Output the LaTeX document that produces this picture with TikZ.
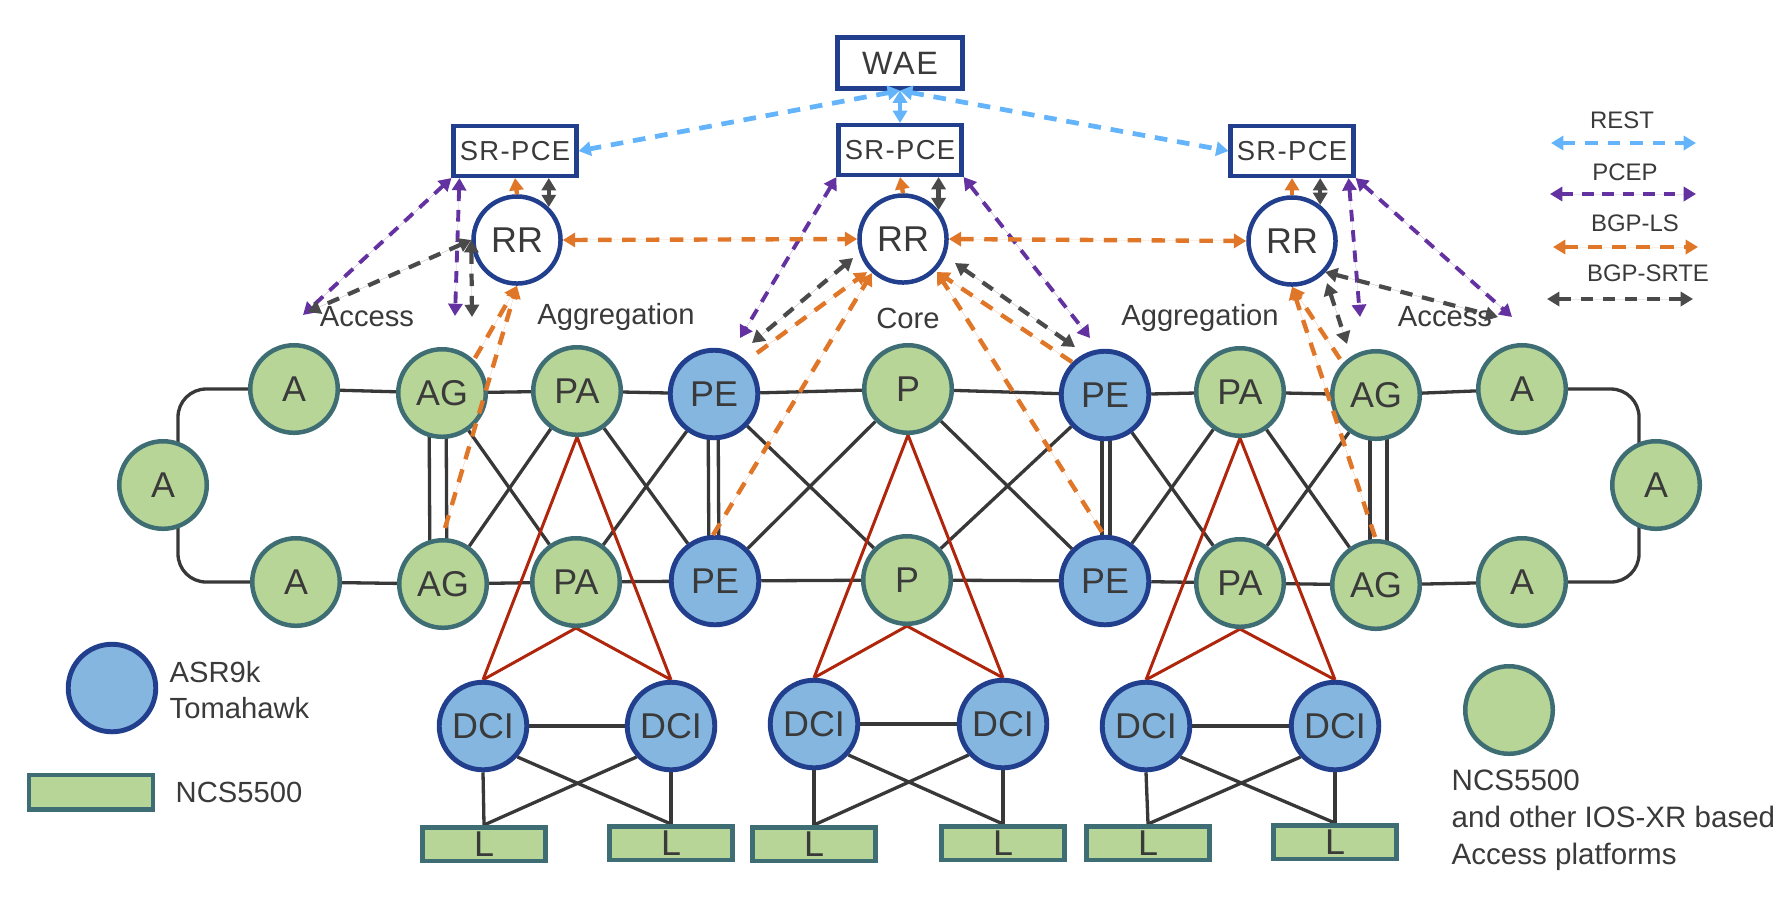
\documentclass[tikz,border=0pt]{standalone}
\usepackage{fontspec}
\setmainfont{Liberation Sans}
\newfontfamily\boxfont[LetterSpace=5]{Liberation Sans}
\usepackage{tikz}
\usetikzlibrary{arrows.meta, positioning, calc, backgrounds}

\definecolor{ncsfill}{HTML}{B7D597}
\definecolor{ncsline}{HTML}{3E6E74}
\definecolor{asrfill}{HTML}{84B6E0}
\definecolor{asrline}{HTML}{223F8E}
\definecolor{restc}{HTML}{63B4FA}
\definecolor{pcepc}{HTML}{6432A0}
\definecolor{lsc}{HTML}{E07628}
\definecolor{srtec}{HTML}{4A4A4A}
\definecolor{linkc}{HTML}{383838}
\definecolor{redc}{HTML}{B0260C}
\definecolor{txt}{HTML}{3A3A3A}

\tikzstyle{ncs} = [circle, draw=ncsline, fill=ncsfill, line width=1.28pt, minimum size=0.875cm, inner sep=0pt, text=txt, font=\fontsize{10.2}{12}\selectfont]
\tikzstyle{asr} = [ncs, draw=asrline, fill=asrfill, line width=1.4pt]
\tikzstyle{rr} = [ncs, draw=asrline, fill=white, minimum size=0.87cm]
\tikzstyle{pce} = [rectangle, draw=asrline, fill=white, line width=1.28pt, minimum width=1.225cm, minimum height=0.495cm, inner sep=0pt, text=txt, font=\boxfont\fontsize{7.8}{9}\selectfont]
\tikzstyle{leaf} = [rectangle, draw=ncsline, fill=ncsfill, line width=1.28pt, minimum width=1.225cm, minimum height=0.335cm, inner sep=0pt, text=txt, font=\fontsize{10.2}{12}\selectfont]
\tikzstyle{lbl} = [inner sep=0pt, text=txt, font=\fontsize{8.3}{10}\selectfont]
\tikzstyle{legtxt} = [inner sep=0pt, text=txt, font=\fontsize{6.8}{8}\selectfont]
\tikzstyle{link} = [draw=linkc, line width=0.94pt]
\tikzstyle{redlink} = [draw=redc, line width=0.85pt]
\tikzstyle{rest} = [draw=restc, line width=1.35pt, dash pattern=on 3.6pt off 2.8pt, <->]
\tikzstyle{pcep} = [draw=pcepc, fill=pcepc, line width=1.1pt, dash pattern=on 3.3pt off 2.5pt, <->]
\tikzstyle{bgpls} = [draw=lsc, fill=lsc, line width=1.25pt, dash pattern=on 3.8pt off 3pt]
\tikzstyle{srte} = [draw=srtec, fill=srtec, line width=1.2pt, dash pattern=on 3.5pt off 2.8pt, <->]

\begin{document}
\begin{tikzpicture}[x=0.01cm, y=-0.01cm, >={Triangle[length=3.5pt,width=4pt]}]
		\useasboundingbox (0,0) rectangle (1789,905);

		\coordinate (ringL) at (178,485);
		\coordinate (ringR) at (1639,485);
		\coordinate (accL)  at (303,315);
		\coordinate (pvL)   at (455,316);
		\coordinate (srL)   at (308,312);
		\coordinate (gvL)   at (472,317);
		\coordinate (pvR)   at (1360,317);
		\coordinate (accR)  at (1512,317);
		\coordinate (srR)   at (1498,317);

		% controllers
		\node[pce, font=\boxfont\fontsize{9.2}{11}\selectfont, minimum width=1.245cm, minimum height=0.505cm] (WAE) at (900,63) {WAE};
		\node[pce] (SL) at (515,151) {SR-PCE};
		\node[pce] (SM) at (900,150) {SR-PCE};
		\node[pce] (SR) at (1292,151) {SR-PCE};
		\node[rr] (RRL) at (517,240) {RR};
		\node[rr] (RRM) at (903,239) {RR};
		\node[rr] (RRR) at (1292,241) {RR};

		\node[lbl] (accessL) at (367,317) {Access};
		\node[lbl] (aggL)    at (616,317) {Aggregation};
		\node[lbl] (core)    at (908,318) {Core};
		\node[lbl] (aggR)    at (1200,318) {Aggregation};
		\node[lbl] (accessR) at (1445,317) {Access};

		% ring, top row
		\node[ncs] (A1t)  at (294,389)  {A};
		\node[ncs] (AG1t) at (442,393)  {AG};
		\node[ncs] (PA1t) at (577,391)  {PA};
		\node[asr] (PE1t) at (714,394)  {PE};
		\node[ncs] (Pt)   at (908,389)  {P};
		\node[asr] (PE2t) at (1105,395) {PE};
		\node[ncs] (PA2t) at (1240,392) {PA};
		\node[ncs] (AG2t) at (1376,395) {AG};
		\node[ncs] (A2t)  at (1522,389) {A};
		\node[ncs] (Al)   at (163,485)  {A};
		\node[ncs] (Ar)   at (1656,485) {A};
		% ring, bottom row
		\node[ncs] (A1b)  at (296,582)  {A};
		\node[ncs] (AG1b) at (443,584)  {AG};
		\node[ncs] (PA1b) at (576,582)  {PA};
		\node[asr] (PE1b) at (715,581)  {PE};
		\node[ncs] (Pb)   at (907,580)  {P};
		\node[asr] (PE2b) at (1105,581) {PE};
		\node[ncs] (PA2b) at (1240,583) {PA};
		\node[ncs] (AG2b) at (1376,585) {AG};
		\node[ncs] (A2b)  at (1522,582) {A};

		% data centre
		\node[asr] (D1) at (483,726)  {DCI};
		\node[asr] (D2) at (671,726)  {DCI};
		\node[asr] (D3) at (814,724)  {DCI};
		\node[asr] (D4) at (1003,724) {DCI};
		\node[asr] (D5) at (1146,726) {DCI};
		\node[asr] (D6) at (1335,726) {DCI};
		\node[leaf] (L1) at (484,844)  {L};
		\node[leaf] (L2) at (671,843)  {L};
		\node[leaf] (L3) at (814,844)  {L};
		\node[leaf] (L4) at (1003,843) {L};
		\node[leaf] (L5) at (1148,843) {L};
		\node[leaf] (L6) at (1335,842) {L};

		% legend
		\node[asr] (legASR) at (112,688) {};
		\node[lbl, anchor=west, align=left, font=\fontsize{8.3}{10}\selectfont] (legASRt) at (169,690) {ASR9k\\Tomahawk};
		\node[leaf, minimum width=1.235cm, minimum height=0.345cm] (legL) at (91,792) {};
		\node[lbl, anchor=west] (legLt) at (175,792) {NCS5500};
		\node[ncs] (legNCS) at (1509,710) {};
		\node[lbl, anchor=west, align=left, font=\fontsize{8.4}{10.5}\selectfont] (legNCSt) at (1451,820) {NCS5500\\and other IOS-XR based\\Access platforms};

		\node[legtxt] (lgRest) at (1622,120) {REST};
		\node[legtxt] (lgPcep) at (1625,172) {PCEP};
		\node[legtxt] (lgLs)   at (1635,223) {BGP-LS};
		\node[legtxt] (lgSrte) at (1648,273) {BGP-SRTE};
		\coordinate (r1) at (1551,143); \coordinate (r2) at (1696,143);
		\coordinate (p1) at (1550,194); \coordinate (p2) at (1696,194);
		\coordinate (b1) at (1553,247); \coordinate (b2) at (1698,247);
		\coordinate (s1) at (1547,299); \coordinate (s2) at (1693,299);

		\begin{scope}[on background layer]
			\draw[link, rounded corners=8pt] (A1t) -| (ringL) |- (A1b);
			\draw[link, rounded corners=8pt] (A2t) -| (ringR) |- (A2b);
			\foreach \a/\b in {A1t/AG1t, AG1t/PA1t, PA1t/PE1t, PE1t/Pt, Pt/PE2t, PE2t/PA2t, PA2t/AG2t, AG2t/A2t,
			                   A1b/AG1b, AG1b/PA1b, PA1b/PE1b, PE1b/Pb, Pb/PE2b, PE2b/PA2b, PA2b/AG2b, AG2b/A2b,
			                   AG1t/PA1b, AG1b/PA1t, PA1t/PE1b, PA1b/PE1t, PE1t/Pb, PE1b/Pt,
			                   Pt/PE2b, Pb/PE2t, PE2t/PA2b, PE2b/PA2t, PA2t/AG2b, PA2b/AG2t}
				\draw[link] (\a) -- (\b);
			\foreach \u/\v/\l/\r in {AG1t/AG1b/-13/4, PE1t/PE1b/-6/4, PE2t/PE2b/-3/5, AG2t/AG2b/-6/11} {
				\draw[link] ($(\u)+(\l,0)$) -- ($(\v)+(\l,0)$);
				\draw[link] ($(\u)+(\r,0)$) -- ($(\v)+(\r,0)$);
			}
			\foreach \p/\d/\e in {PA1t/D1/D2, PA1b/D1/D2, Pt/D3/D4, Pb/D3/D4, PA2t/D5/D6, PA2b/D5/D6}
				\draw[redlink] (\d.north) -- (\p.south) -- (\e.north);
			\foreach \d/\e/\l/\m in {D1/D2/L1/L2, D3/D4/L3/L4, D5/D6/L5/L6} {
				\draw[link] (\d) -- (\e);
				\draw[link] (\d.south) -- (\l.north);
				\draw[link] (\e.south) -- (\m.north);
				\draw[link] (\d.-42) -- (\m.north);
				\draw[link] (\e.-138) -- (\l.north);
			}
		\end{scope}

		% REST
		\draw[rest] (WAE.south) -- (SL.east);
		\draw[rest] (WAE.south) -- (SM.north);
		\draw[rest] (WAE.south) -- (SR.west);
		% PCEP
		\draw[pcep] (SL.south west) -- (accL);
		\draw[pcep] ($(SL.south west)+(8,0)$) -- (pvL);
		\draw[pcep] (SM.south west) -- ($(PE1t)+(26,-56)$);
		\draw[pcep] (SM.south east) -- ($(PE2t)+(-15,-57)$);
		\draw[pcep] ($(SR.south east)+(-7,0)$) -- (pvR);
		\draw[pcep] (SR.south east) -- (accR);
		% BGP-LS
		\draw[bgpls, ->] (RRL.north) -- (SL.south);
		\draw[bgpls, ->] (RRM.north) -- (SM.south);
		\draw[bgpls, ->] (RRR.north) -- (SR.south);
		\draw[bgpls, <->] (RRL.east) -- (RRM.west);
		\draw[bgpls, <->] (RRM.east) -- (RRR.west);
		\draw[bgpls, ->] ($(AG1b)+(2,-56)$) -- (RRL.south);
		\draw[bgpls, ->] ($(AG1t)+(33,-35)$) -- (RRL.south);
		\draw[bgpls, ->] ($(PE1t)+(43,-41)$) -- ($(RRM)+(-36,33)$);
		\draw[bgpls, ->] ($(PE1b)+(-2,-46)$) -- ($(RRM)+(-31,34)$);
		\draw[bgpls, ->] ($(PE2t)+(-33,-33)$) -- ($(RRM)+(34,33)$);
		\draw[bgpls, ->] ($(PE2b)+(-3,-49)$) -- ($(RRM)+(34,33)$);
		\draw[bgpls, ->] ($(AG2t)+(-36,-36)$) -- (RRR.south);
		\draw[bgpls, ->] ($(AG2b)+(-1,-48)$) -- (RRR.south);
		% BGP-SRTE
		\draw[srte] (RRL.46) -- (RRL.46 |- SL.south);
		\draw[srte] (RRM.39) -- (RRM.39 |- SM.south);
		\draw[srte] (RRR.52) -- (RRR.52 |- SR.south);
		\draw[srte] (RRL.west) -- (srL);
		\draw[srte] (RRL.west) -- (gvL);
		\draw[srte] ($(RRM)+(-50,19)$) -- ($(PE1t)+(38,-51)$);
		\draw[srte] ($(RRM)+(52,24)$) -- ($(PE2t)+(-30,-48)$);
		\draw[srte] ($(RRR)+(33,31)$) -- (srR);
		\draw[srte] ($(RRR)+(35,42)$) -- ($(AG2t)+(-29,-51)$);

		% legend arrows
		\draw[rest] (r1) -- (r2);
		\draw[pcep] (p1) -- (p2);
		\draw[bgpls, <->] (b1) -- (b2);
		\draw[srte] (s1) -- (s2);

	\end{tikzpicture}
\end{document}
